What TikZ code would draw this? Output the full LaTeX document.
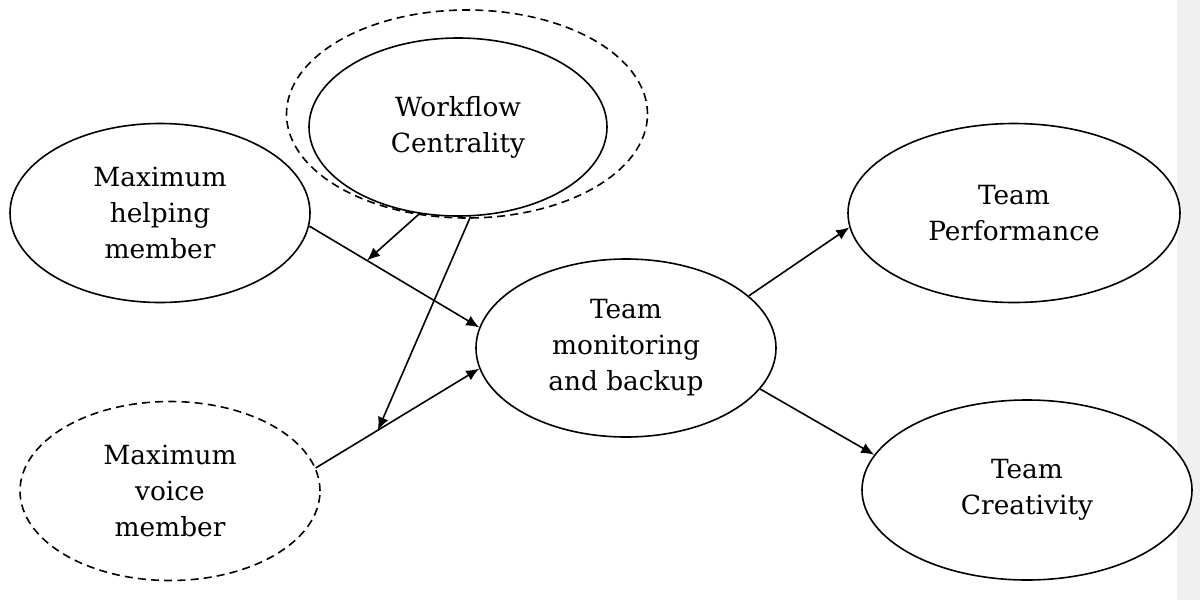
\documentclass[tikz,border=0pt]{standalone}
\usepackage{fontspec}
\setmainfont{DejaVu Serif}
\usetikzlibrary{shapes.geometric,arrows.meta,calc}

\tikzset{
  construct/.style={ellipse, draw, line width=0.8pt, inner sep=0pt, align=center,
    font=\fontsize{13.2}{18}\selectfont, fill=white},
  latent/.style={construct, dashed, dash pattern=on 4pt off 2.6pt},
  link/.style={line width=0.8pt, -{Latex[length=6.5pt,width=5.5pt]}},
}

\begin{document}
\begin{tikzpicture}[x=0.5pt,y=-0.5pt]
  % canvas and right-hand margin strip
  \useasboundingbox (0,0) rectangle (1200,600);
  \fill[white] (0,0) rectangle (1200,600);
  \fill[gray!12] (1177,0) rectangle (1200,600);

  % moderator: workflow centrality with its dashed halo (sizes in pt)
  \node[latent, minimum width=180.5pt, minimum height=104pt] (wfring) at (467,114) {};
  \node[construct, minimum width=149pt, minimum height=89pt] (wf) at (458,127) {Workflow\\Centrality};

  % antecedents
  \node[construct, minimum width=150pt, minimum height=89.5pt] (help) at (160,213) {Maximum\\helping\\member};
  \node[latent, minimum width=150pt, minimum height=89.5pt] (voice) at (170,491) {Maximum\\voice\\member};

  % mediator
  \node[construct, minimum width=150pt, minimum height=89pt] (mon) at (626,348) {Team\\monitoring\\and backup};

  % outcomes
  \node[construct, minimum width=166pt, minimum height=89.5pt] (perf) at (1014,213) {Team\\Performance};
  \node[construct, minimum width=165pt, minimum height=90pt] (creat) at (1027,490) {Team\\Creativity};

  % main paths
  \draw[link] (help.-5) -- (mon.172);
  \draw[link] (voice.9) -- (mon.188);
  \draw[link] (mon.23) -- (perf.185);
  \draw[link] (mon.-17) -- (creat.167);

  % moderation arrows landing on the main paths
  \coordinate (modA) at ($(help.-5)!0.34!(mon.172)$);
  \coordinate (modB) at ($(voice.9)!0.38!(mon.188)$);
  \draw[link] (wf.-114) -- (modA);
  \draw[link] (wf.-82) -- (modB);
\end{tikzpicture}
\end{document}
